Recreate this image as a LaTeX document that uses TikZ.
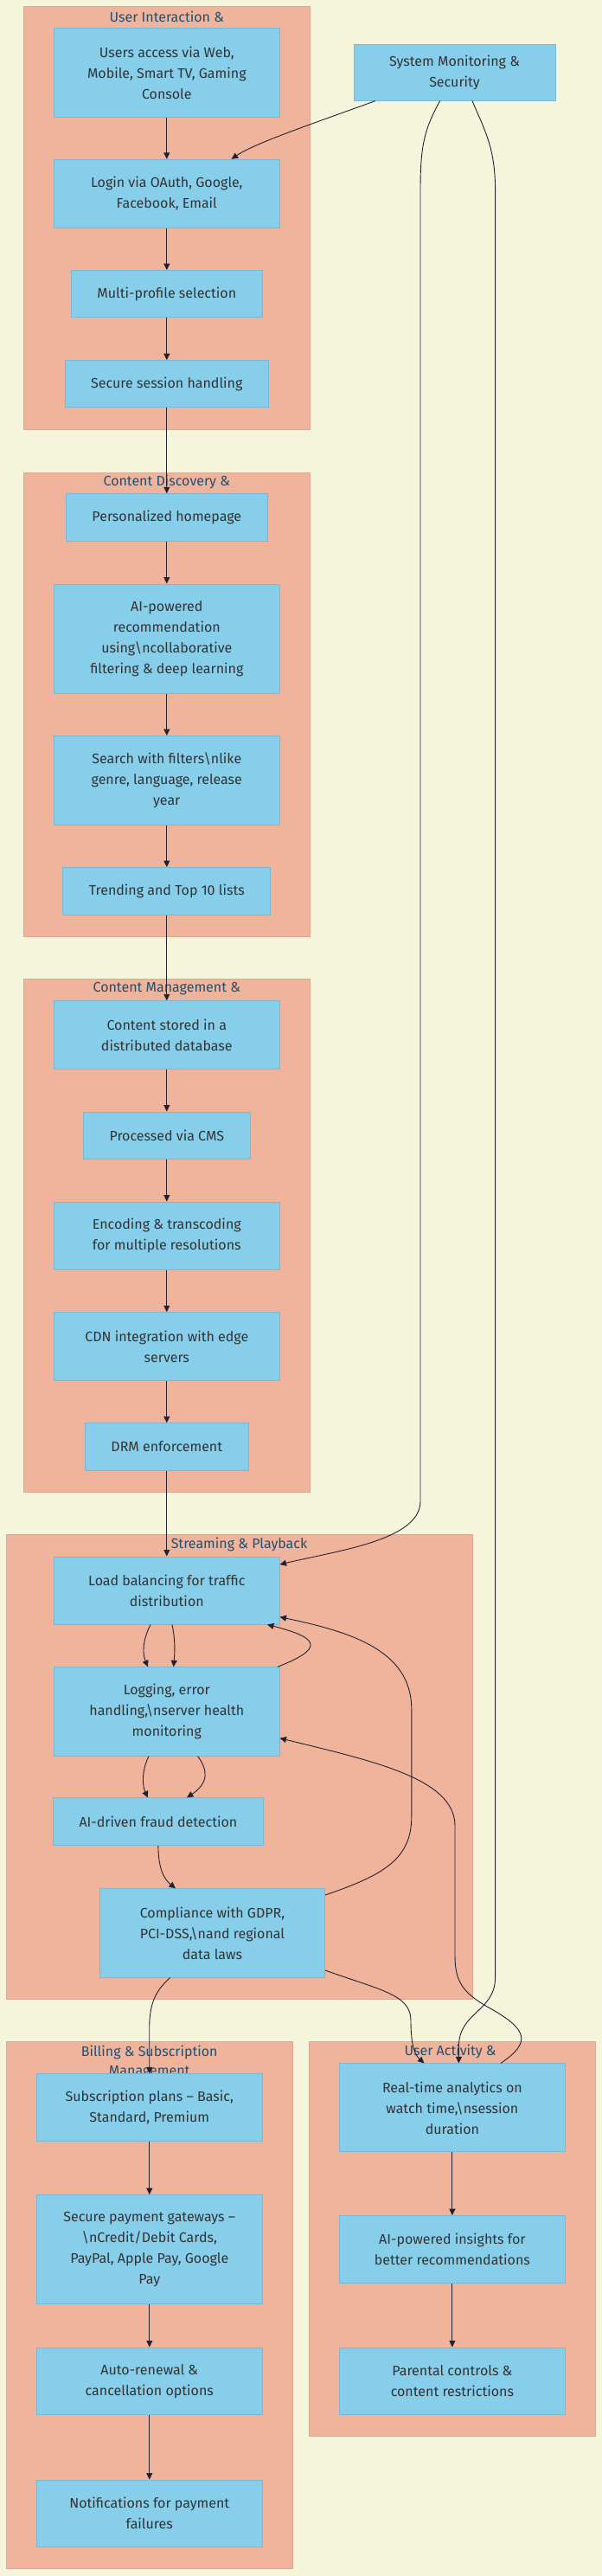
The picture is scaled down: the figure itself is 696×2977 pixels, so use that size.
\documentclass[tikz,border=0pt]{standalone}
\usepackage{fontspec}
\setmainfont{Fira Sans}
\usetikzlibrary{arrows.meta}
\definecolor{bg}{HTML}{F5F5DC}
\definecolor{clfill}{HTML}{EFB49B}
\definecolor{cldraw}{HTML}{D9AA92}
\definecolor{nfill}{HTML}{87CEEB}
\definecolor{ndraw}{HTML}{7AB8D6}
\definecolor{ntext}{HTML}{333333}
\definecolor{ttext}{HTML}{1F5170}
\definecolor{edgec}{HTML}{222233}
\begin{document}
\begin{tikzpicture}[x=1pt,y=-1pt,
 box/.style={draw=ndraw, line width=1pt, fill=nfill, text=ntext, align=center, inner sep=0pt, font=\fontsize{16}{24}\selectfont},
 cluster/.style={draw=cldraw, line width=1pt, fill=clfill},
 ctitle/.style={text=ttext, font=\fontsize{16}{22}\selectfont, inner sep=0pt, align=center},
 arr/.style={draw=edgec, line width=0.9pt, -{Triangle[length=7.5pt,width=7pt]}},
]
\fill[bg] (0,0) rectangle (696,2977);
\useasboundingbox (0,0) rectangle (696,2977);
% clusters
\path[cluster] (27.5,7.3) rectangle (358,496);
\path[cluster] (27.5,546) rectangle (358,1082);
\path[cluster] (27.5,1131.5) rectangle (358,1724);
\path[cluster] (7.5,1773.7) rectangle (546,2310);
\path[cluster] (7.5,2359.7) rectangle (338,2968.7);
\path[cluster] (357.7,2359.7) rectangle (688,2815.7);
% titles
\node[ctitle] (t1) at (192.8,19) {User Interaction \&};
\node[ctitle] (t2) at (192.8,557) {Content Discovery \&};
\node[ctitle] (t3) at (192.8,1143) {Content Management \&};
\node[ctitle] (t4) at (276.5,1785) {Streaming \& Playback};
\node[ctitle] (t5) at (172.7,2382.5) {Billing \& Subscription\\Management};
\node[ctitle] (t6) at (520.6,2371) {User Activity \&};
% nodes
\node[box,minimum width=260.4pt,minimum height=102.3pt] (a) at (192.8,83.9) {Users access via Web,\\Mobile, Smart TV, Gaming\\Console};
\node[box,minimum width=233pt,minimum height=64.3pt] (sys) at (525.5,83.9) {System Monitoring \&\\Security};
\node[box,minimum width=260.4pt,minimum height=78.7pt] (login) at (192.8,223.7) {Login via OAuth, Google,\\Facebook, Email};
\node[box,minimum width=221pt,minimum height=54.3pt] (multi) at (192.8,339.8) {Multi-profile selection};
\node[box,minimum width=235pt,minimum height=54.3pt] (sess) at (192.8,443.8) {Secure session handling};
\node[box,minimum width=233pt,minimum height=54.3pt] (home) at (192.8,597.9) {Personalized homepage};
\node[box,minimum width=260.4pt,minimum height=126pt] (rec) at (192.8,738) {AI-powered\\recommendation\\using\textbackslash ncollaborative\\filtering \& deep learning};
\node[box,minimum width=260.4pt,minimum height=102.4pt] (search) at (192.8,901.8) {Search with filters\textbackslash nlike\\genre, language, release\\year};
\node[box,minimum width=240pt,minimum height=54.5pt] (trend) at (192.8,1029.8) {Trending and Top 10 lists};
\node[box,minimum width=260.4pt,minimum height=78.2pt] (store) at (192.8,1195.9) {Content stored in a\\distributed database};
\node[box,minimum width=193pt,minimum height=54pt] (cms) at (192.8,1312) {Processed via CMS};
\node[box,minimum width=260.4pt,minimum height=78pt] (enc) at (192.8,1428) {Encoding \& transcoding\\for multiple resolutions};
\node[box,minimum width=260.4pt,minimum height=78.3pt] (cdn) at (192.8,1555.9) {CDN integration with edge\\servers};
\node[box,minimum width=189pt,minimum height=54.2pt] (drm) at (192.8,1671.9) {DRM enforcement};
\node[box,minimum width=260.4pt,minimum height=78pt] (lb) at (192.8,1838) {Load balancing for traffic\\distribution};
\node[box,minimum width=260.4pt,minimum height=102.2pt] (logging) at (192.8,1977.9) {Logging, error\\handling,\textbackslash nserver health\\monitoring};
\node[box,minimum width=243.2pt,minimum height=54.7pt] (fraud) at (182.9,2105.3) {AI-driven fraud detection};
\node[box,minimum width=260.1pt,minimum height=102.2pt] (comp) at (245.45,2233.9) {Compliance with GDPR,\\PCI-DSS,\textbackslash nand regional\\data laws};
\node[box,minimum width=260.4pt,minimum height=78pt] (sub) at (172.8,2435.8) {Subscription plans – Basic,\\Standard, Premium};
\node[box,minimum width=260.4pt,minimum height=125.9pt] (pay) at (172.8,2599.65) {Secure payment gateways –\\\textbackslash nCredit/Debit Cards,\\PayPal, Apple Pay, Google\\Pay};
\node[box,minimum width=260.4pt,minimum height=77.5pt] (auto) at (172.8,2751.75) {Auto-renewal \&\\cancellation options};
\node[box,minimum width=260.4pt,minimum height=77.6pt] (notif) at (172.8,2904.8) {Notifications for payment\\failures};
\node[box,minimum width=260.2pt,minimum height=101.9pt] (real) at (522.9,2435.85) {Real-time analytics on\\watch time,\textbackslash nsession\\duration};
\node[box,minimum width=260.2pt,minimum height=77.9pt] (ins) at (522.9,2599.65) {AI-powered insights for\\better recommendations};
\node[box,minimum width=260.2pt,minimum height=77.5pt] (par) at (522.9,2751.75) {Parental controls \&\\content restrictions};
% straight edges
\draw[arr] (a.south) -- (login.north);
\draw[arr] (login.south) -- (multi.north);
\draw[arr] (multi.south) -- (sess.north);
\draw[arr] (sess.south) -- (home.north);
\draw[arr] (home.south) -- (rec.north);
\draw[arr] (rec.south) -- (search.north);
\draw[arr] (search.south) -- (trend.north);
\draw[arr] (trend.south) -- (store.north);
\draw[arr] (store.south) -- (cms.north);
\draw[arr] (cms.south) -- (enc.north);
\draw[arr] (enc.south) -- (cdn.north);
\draw[arr] (cdn.south) -- (drm.north);
\draw[arr] (drm.south) -- (lb.north);
\draw[arr] (sub.south) -- (pay.north);
\draw[arr] (pay.south) -- (auto.north);
\draw[arr] (auto.south) -- (notif.north);
\draw[arr] (real.south) -- (ins.north);
\draw[arr] (ins.south) -- (par.north);
% curved edges
\draw[arr] ([xshift=-91.5pt]sys.south) .. controls (370,140) and (295,165) .. ([xshift=74.8pt]login.north);
\draw[arr] ([xshift=-16.8pt]sys.south) .. controls (490,150) and (486,170) .. (486,220) -- (486,1735) .. controls (486,1780) and (390,1792) .. (lb.east |- 0,1808);
\draw[arr] ([xshift=20.5pt]sys.south) .. controls (560,150) and (572.6,170) .. (572.6,220) -- (572.6,2285) .. controls (572.6,2325) and (530.4,2325) .. (530.4,2365) -- ([xshift=7.5pt]real.north);
\draw[arr] (comp.east |- 0,2277) .. controls (440,2300) and (475,2305) .. (475,2335) .. controls (475,2365) and (480,2375) .. ([xshift=-32.4pt]real.north);
\draw[arr] ([xshift=56pt]real.north) .. controls (615,2360) and (610,2345) .. (565,2320) .. controls (535,2303) and (526,2290) .. (526,2260) -- (526,2110) .. controls (526,2055) and (430,2035) .. (logging.east |- 0,2008.7);
\draw[arr] (comp.east |- 0,2190) .. controls (440,2168) and (475.8,2150) .. (475.8,2100) -- (475.8,1975) .. controls (475.8,1905) and (400,1885) .. (lb.east |- 0,1868.6);
\draw[arr] ([xshift=-18.8pt]lb.south) .. controls (164,1897) and (165,1912) .. ([xshift=-21.8pt]logging.north);
\draw[arr] ([xshift=6.2pt]lb.south) .. controls (203,1897) and (202,1910) .. ([xshift=7.8pt]logging.north);
\draw[arr] ([xshift=128.2pt]logging.north) .. controls (375,1905) and (370,1893) .. ([xshift=116.2pt]lb.south);
\draw[arr] ([xshift=-20.8pt]logging.south) .. controls (163,2048) and (165,2065) .. ([xshift=-11.9pt]fraud.north);
\draw[arr] ([xshift=35.8pt]logging.south) .. controls (240,2045) and (242,2060) .. ([xshift=33.1pt]fraud.north);
\draw[arr] (fraud.south) .. controls (183,2160) and (190,2172) .. ([xshift=-42.45pt]comp.north);
\draw[arr] ([xshift=-48.85pt]comp.south) .. controls (178,2302) and (172.7,2318) .. (172.7,2345) -- (sub.north);
\end{tikzpicture}
\end{document}
